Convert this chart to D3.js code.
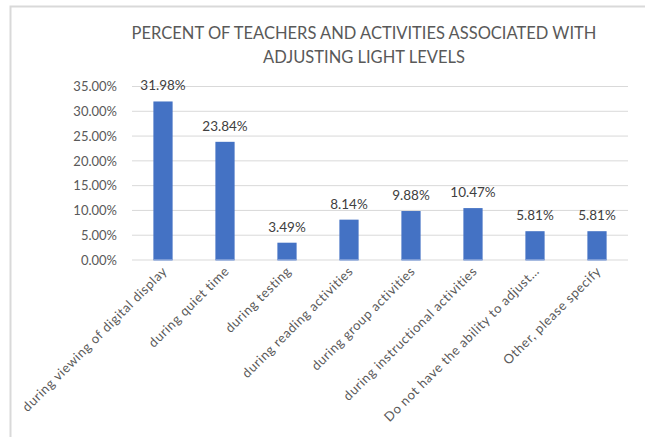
<!DOCTYPE html>
<html>
<head>
<meta charset="utf-8">
<script src="https://cdn.jsdelivr.net/npm/d3@7"></script>
<style>
  body { margin: 0; background: #fff; }
  text { font-family: Lato, "Open Sans", sans-serif; }
</style>
</head>
<body>
<div id="chart"></div>
<script>
// Data
var categories = [
  "during viewing of digital display",
  "during quiet time",
  "during testing",
  "during reading activities",
  "during group activities",
  "during instructional activities",
  "Do not have the ability to adjust…",
  "Other, please specify"
];
var percents = [31.98, 23.84, 3.49, 8.14, 9.88, 10.47, 5.81, 5.81];
var yTicks = [0, 5, 10, 15, 20, 25, 30, 35];
var titleLines = ["PERCENT OF TEACHERS AND ACTIVITIES ASSOCIATED WITH", "ADJUSTING LIGHT LEVELS"];

// SVG window
var svgWidth = 645;
var svgHeight = 437;

var margin = { top: 86.5, right: 17, bottom: 177, left: 132 };
var width = svgWidth - margin.left - margin.right;
var height = svgHeight - margin.top - margin.bottom;

var svg = d3.select("#chart")
  .append("svg")
  .attr("width", svgWidth)
  .attr("height", svgHeight);

// chart frame (top + left edges visible)
svg.append("path")
  .attr("d", "M10.5,437 L10.5,6.5 L645,6.5")
  .attr("fill", "none")
  .attr("stroke", "#d9d9d9")
  .attr("stroke-width", 2);

// title
svg.append("text")
  .attr("x", 363)
  .attr("y", 39)
  .attr("text-anchor", "middle")
  .attr("fill", "#595959")
  .style("font-size", "16.5px")
  .selectAll("tspan")
  .data(titleLines)
  .enter()
  .append("tspan")
  .attr("x", 364)
  .attr("dy", (d, i) => i === 0 ? 0 : 24)
  .text(d => d);

var chartGroup = svg.append("g")
  .attr("transform", `translate(${margin.left}, ${margin.top})`);

// scales
var xBandScale = d3.scaleBand()
  .domain(categories)
  .range([0, width])
  .paddingInner(0.69)
  .paddingOuter(0.345);

var yLinearScale = d3.scaleLinear()
  .domain([0, 35])
  .range([height, 0]);

// gridlines
chartGroup.append("g")
  .selectAll("line")
  .data(yTicks)
  .enter()
  .append("line")
  .attr("x1", 0)
  .attr("x2", width)
  .attr("y1", d => yLinearScale(d))
  .attr("y2", d => yLinearScale(d))
  .attr("stroke", "#d9d9d9")
  .attr("stroke-width", 1);

// y axis
var leftAxis = d3.axisLeft(yLinearScale)
  .tickValues(yTicks)
  .tickSize(0)
  .tickPadding(15)
  .tickFormat(d => d.toFixed(2) + "%");

var yAxis = chartGroup.append("g").call(leftAxis);
yAxis.select(".domain").remove();
yAxis.selectAll("text")
  .attr("fill", "#595959")
  .style("font-family", "Lato, sans-serif")
  .style("font-size", "13px");

// bars
chartGroup.selectAll("rect.bar")
  .data(percents)
  .enter()
  .append("rect")
  .attr("class", "bar")
  .attr("x", (d, i) => xBandScale(categories[i]))
  .attr("y", d => yLinearScale(d))
  .attr("width", xBandScale.bandwidth())
  .attr("height", d => height - yLinearScale(d))
  .attr("fill", "#4472c4");

// light base of each bar on the zero line
chartGroup.selectAll("line.base")
  .data(percents)
  .enter()
  .append("line")
  .attr("class", "base")
  .attr("x1", (d, i) => xBandScale(categories[i]))
  .attr("x2", (d, i) => xBandScale(categories[i]) + xBandScale.bandwidth())
  .attr("y1", height)
  .attr("y2", height)
  .attr("stroke", "#8faadc")
  .attr("stroke-width", 1.5);

// data labels
chartGroup.selectAll("text.val")
  .data(percents)
  .enter()
  .append("text")
  .attr("class", "val")
  .attr("x", (d, i) => xBandScale(categories[i]) + xBandScale.bandwidth() / 2)
  .attr("y", d => yLinearScale(d) - 11)
  .attr("text-anchor", "middle")
  .attr("fill", "#404040")
  .style("font-size", "13.5px")
  .text(d => d.toFixed(2) + "%");

// x axis labels
var bottomAxis = d3.axisBottom(xBandScale).tickSize(0).tickPadding(0);
var xAxis = chartGroup.append("g")
  .attr("transform", `translate(0, ${height})`)
  .call(bottomAxis);
xAxis.select(".domain").remove();
xAxis.selectAll("text")
  .attr("fill", "#595959")
  .style("font-family", "Lato, sans-serif")
  .style("font-size", "13px")
  .style("letter-spacing", "0.6px")
  .attr("text-anchor", "end")
  .attr("dy", 0)
  .attr("transform", "translate(5, 12) rotate(-45)");
</script>
</body>
</html>
